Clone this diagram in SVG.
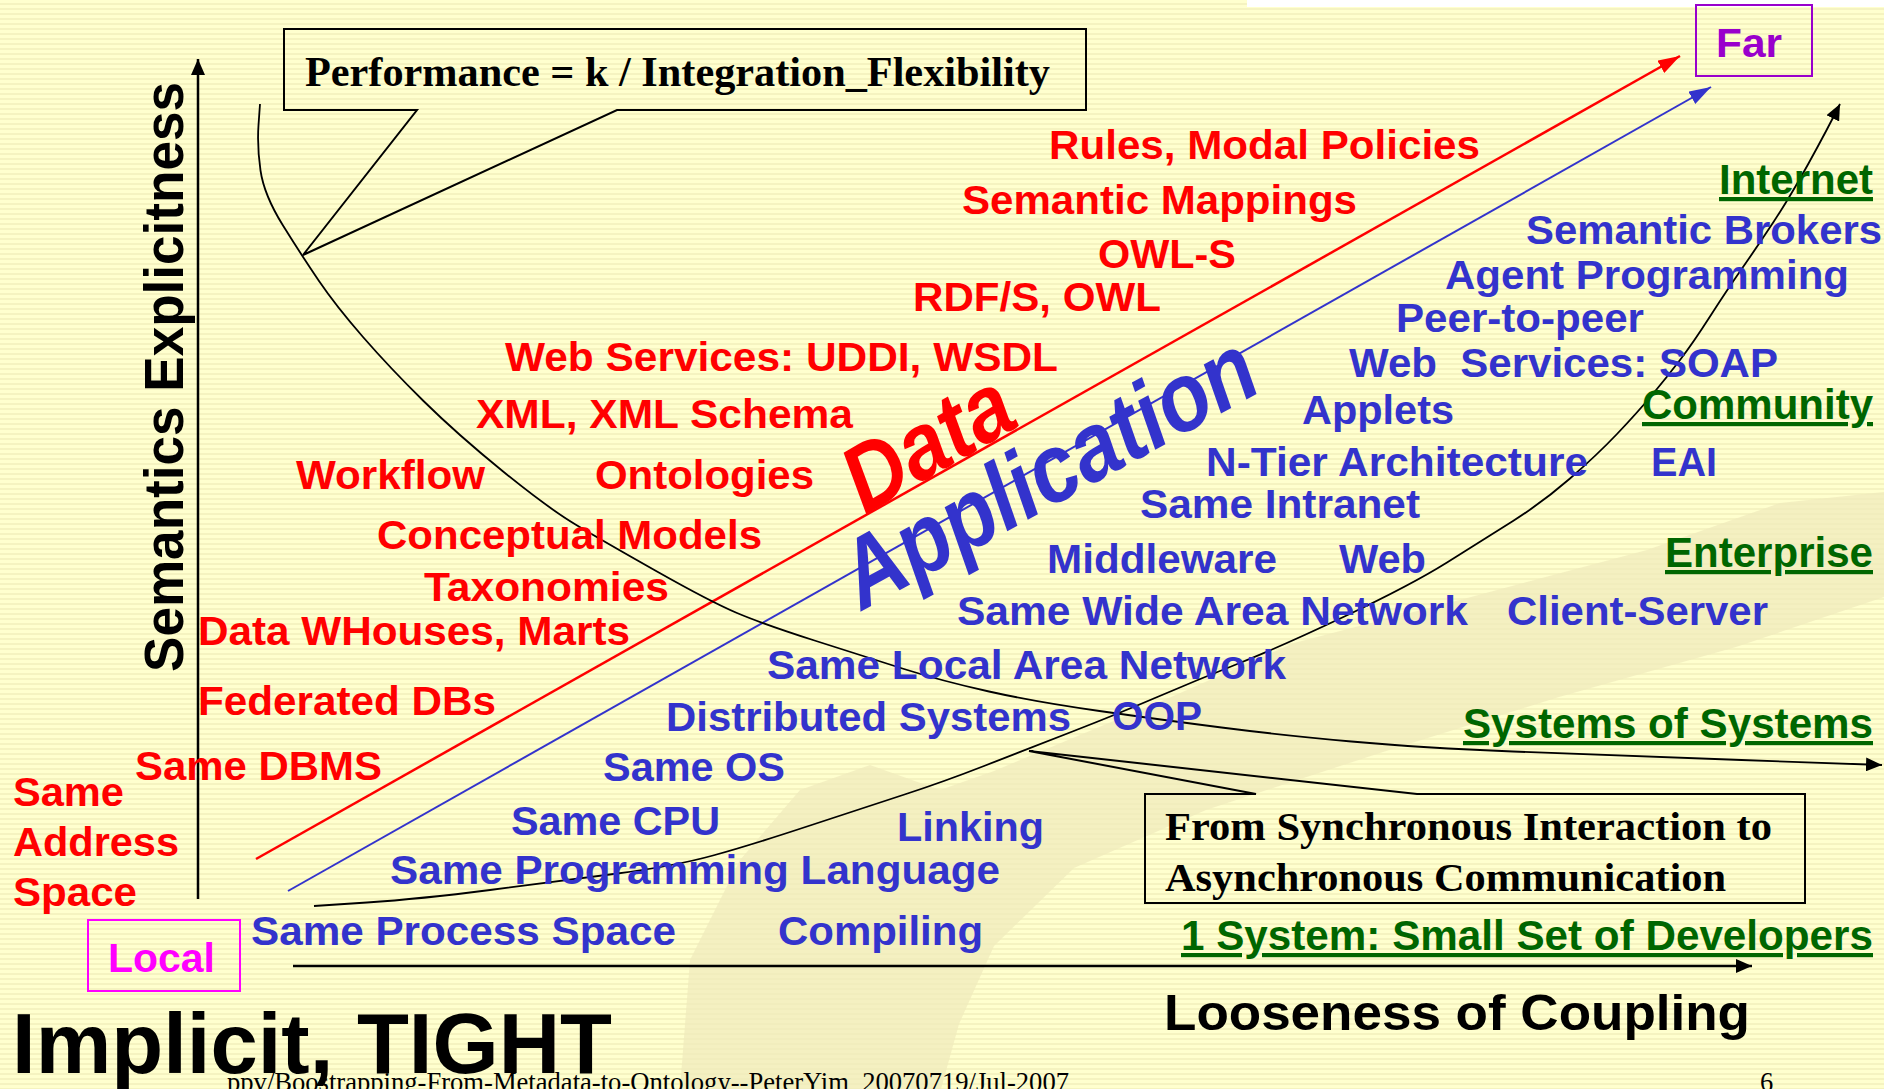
<svg xmlns="http://www.w3.org/2000/svg" width="1884" height="1089" viewBox="0 0 1884 1089">
<defs>
<pattern id="stripes" width="20" height="5" patternUnits="userSpaceOnUse">
<rect width="20" height="5" fill="#FFFFCE"/>
<rect y="3" width="20" height="2" fill="#F5F3C0"/>
</pattern>
<marker id="arrK" viewBox="0 0 16 14" refX="16" refY="7" markerWidth="16" markerHeight="14" markerUnits="userSpaceOnUse" orient="auto"><path d="M0,0 L16,7 L0,14 z" fill="#000"/></marker>
<marker id="arrR" viewBox="0 0 22 14" refX="22" refY="7" markerWidth="22" markerHeight="14" markerUnits="userSpaceOnUse" orient="auto"><path d="M0,0 L22,7 L0,14 z" fill="#FF0000"/></marker>
<marker id="arrB" viewBox="0 0 22 14" refX="22" refY="7" markerWidth="22" markerHeight="14" markerUnits="userSpaceOnUse" orient="auto"><path d="M0,0 L22,7 L0,14 z" fill="#3333CC"/></marker>
<style>
text{font-family:"Liberation Sans",Arial,sans-serif;font-weight:bold}
.r{fill:#FF0000;font-size:40px}
.b{fill:#3333CC;font-size:40px}
.g{fill:#006600;font-size:42px;text-decoration:underline;text-anchor:end}
.k{fill:#000}
.t{font-family:"Liberation Serif","Times New Roman",serif;fill:#000}
.box{fill:none;stroke:#000;stroke-width:2}
.ln{fill:none;stroke:#000;stroke-width:1.8}
</style>
</defs>
<rect width="1884" height="1089" fill="url(#stripes)"/>
<rect x="1247" y="0" width="637" height="7" fill="#FFFFFF"/>
<path d="M680,1089 L690,960 L740,860 L800,790 L870,765 L940,790 L994,771 L1171,697 L1294,643 L1471,597 L1647,550 L1780,503 L1884,492 L1884,597 L1736,647 L1559,697 L1383,752 L1206,810 L1074,868 L994,946 L959,1024 L941,1089 Z" fill="#EFEABC" opacity="0.7"/>

<g id="connectors">
<line x1="198" y1="899" x2="198" y2="59" stroke="#000" stroke-width="2.5" marker-end="url(#arrK)"/>
<line x1="293" y1="966" x2="1752" y2="966" stroke="#000" stroke-width="2.5" marker-end="url(#arrK)"/>
<line x1="256" y1="859" x2="1680" y2="56" stroke="#FF0000" stroke-width="2.5" marker-end="url(#arrR)"/>
<line x1="288" y1="891" x2="1711" y2="87" stroke="#3333CC" stroke-width="2" marker-end="url(#arrB)"/>
<path class="ln" d="M260,104 L258.5,125 Q257,146 260.5,170.5 Q264,195 283,225.5 Q302,256 319,281 Q336,306 363,337 Q390,368 423.5,401 Q457,434 502.5,471 Q548,508 575.5,524.5 Q603,541 657,571.5 Q711,602 737,613 Q763,624 814.5,640.5 Q866,657 904,669 Q942,681 989,691.5 Q1036,702 1099.5,711 Q1163,720 1221.5,727.5 Q1280,735 1351.5,741.5 Q1423,748 1513,751.5 Q1603,755 1741.5,760 L1882,765" marker-end="url(#arrK)"/>
<path class="ln" d="M314,906 L367,902.5 Q420,899 490,890 Q560,881 617.5,873.5 Q675,866 713,855.5 Q751,845 808.5,826 Q866,807 904.5,794.5 Q943,782 984,766 Q1025,750 1072.5,731.5 Q1120,713 1158.5,696.5 Q1197,680 1238.5,663.5 Q1280,647 1345.5,616 Q1411,585 1447,562.5 Q1483,540 1513,521 Q1543,502 1570,478.5 Q1597,455 1617,434 Q1637,413 1652,395 Q1667,377 1680,360 Q1693,343 1710,316.5 Q1727,290 1742,268.5 Q1757,247 1773.5,222 Q1790,197 1808.5,163.5 Q1827,130 1840,104" marker-end="url(#arrK)"/>
</g>

<g id="performance-callout">
<polygon class="box" points="284,29 1086,29 1086,110 617,110 303,255 417,110 284,110"/>
<text class="t" x="305" y="86" font-size="42" textLength="745" lengthAdjust="spacingAndGlyphs">Performance = k / Integration_Flexibility</text>
</g>

<g id="sync-callout">
<polygon class="box" points="1145,794 1256,794 1029,751 1417,794 1805,794 1805,903 1145,903"/>
<text class="t" x="1165" y="840" font-size="41" textLength="607" lengthAdjust="spacingAndGlyphs">From Synchronous Interaction to</text>
<text class="t" x="1165" y="891" font-size="41" textLength="561" lengthAdjust="spacingAndGlyphs">Asynchronous Communication</text>
</g>

<g id="far">
<rect x="1696" y="5" width="116" height="71" fill="none" stroke="#9900CC" stroke-width="2"/>
<text x="1716" y="57" font-size="40" fill="#9900CC" textLength="66" lengthAdjust="spacingAndGlyphs">Far</text>
</g>
<g id="local">
<rect x="88" y="920" width="152" height="71" fill="none" stroke="#FF00FF" stroke-width="2"/>
<text x="108" y="972" font-size="40" fill="#FF00FF" textLength="107" lengthAdjust="spacingAndGlyphs">Local</text>
</g>

<g id="axis-labels">
<text class="k" transform="translate(183,377) rotate(-90)" text-anchor="middle" font-size="55" textLength="590" lengthAdjust="spacingAndGlyphs">Semantics Explicitness</text>
<text class="k" x="12" y="1073" font-size="85" textLength="600" lengthAdjust="spacingAndGlyphs">Implicit, TIGHT</text>
<text class="k" x="1164" y="1030" font-size="50" textLength="586" lengthAdjust="spacingAndGlyphs">Looseness of Coupling</text>
</g>

<g id="footer">
<text class="t" x="227" y="1091" font-size="26.5" style="font-weight:normal" textLength="842" lengthAdjust="spacingAndGlyphs">ppv/Boostrapping-From-Metadata-to-Ontology--PeterYim_20070719/Jul-2007</text>
<text class="t" x="1760" y="1091" font-size="26.5" style="font-weight:normal">6</text>
</g>

<g id="data-label">
<text transform="translate(865,515) rotate(-30)" font-size="94" font-style="italic" fill="#FF0000" textLength="181" lengthAdjust="spacingAndGlyphs">Data</text>
</g>
<g id="application-label">
<text transform="translate(862,611) rotate(-28.8)" font-size="97" font-style="italic" fill="#3333CC" textLength="460" lengthAdjust="spacingAndGlyphs">Application</text>
</g>

<g id="data-items">
<g id="r1"><text class="r" x="1049" y="159" textLength="431" lengthAdjust="spacingAndGlyphs">Rules, Modal Policies</text></g>
<g id="r2"><text class="r" x="962" y="214" textLength="395" lengthAdjust="spacingAndGlyphs">Semantic Mappings</text></g>
<g id="r3"><text class="r" x="1098" y="268" textLength="138" lengthAdjust="spacingAndGlyphs">OWL-S</text></g>
<g id="r4"><text class="r" x="913" y="311" textLength="248" lengthAdjust="spacingAndGlyphs">RDF/S, OWL</text></g>
<g id="r5"><text class="r" x="505" y="371" textLength="553" lengthAdjust="spacingAndGlyphs">Web Services: UDDI, WSDL</text></g>
<g id="r6"><text class="r" x="476" y="428" textLength="377" lengthAdjust="spacingAndGlyphs">XML, XML Schema</text></g>
<g id="r7"><text class="r" x="296" y="489" textLength="189" lengthAdjust="spacingAndGlyphs">Workflow</text></g>
<g id="r8"><text class="r" x="595" y="489" textLength="219" lengthAdjust="spacingAndGlyphs">Ontologies</text></g>
<g id="r9"><text class="r" x="377" y="549" textLength="385" lengthAdjust="spacingAndGlyphs">Conceptual Models</text></g>
<g id="r10"><text class="r" x="424" y="601" textLength="245" lengthAdjust="spacingAndGlyphs">Taxonomies</text></g>
<g id="r11"><text class="r" x="198" y="645" textLength="432" lengthAdjust="spacingAndGlyphs">Data WHouses, Marts</text></g>
<g id="r12"><text class="r" x="198" y="715" textLength="298" lengthAdjust="spacingAndGlyphs">Federated DBs</text></g>
<g id="r13"><text class="r" x="135" y="780" textLength="247" lengthAdjust="spacingAndGlyphs">Same DBMS</text></g>
<g id="r14"><text class="r" x="13" y="806" textLength="111" lengthAdjust="spacingAndGlyphs">Same</text><text class="r" x="13" y="856" textLength="166" lengthAdjust="spacingAndGlyphs">Address</text><text class="r" x="13" y="906" textLength="124" lengthAdjust="spacingAndGlyphs">Space</text></g>
</g>

<g id="application-items">
<g id="b1"><text class="b" x="1526" y="244" textLength="356" lengthAdjust="spacingAndGlyphs">Semantic Brokers</text></g>
<g id="b2"><text class="b" x="1445" y="289" textLength="404" lengthAdjust="spacingAndGlyphs">Agent Programming</text></g>
<g id="b3"><text class="b" x="1396" y="332" textLength="248" lengthAdjust="spacingAndGlyphs">Peer-to-peer</text></g>
<g id="b4"><text class="b" x="1349" y="377" textLength="429" lengthAdjust="spacingAndGlyphs" style="white-space:pre" xml:space="preserve">Web  Services: SOAP</text></g>
<g id="b5"><text class="b" x="1302" y="424" textLength="152" lengthAdjust="spacingAndGlyphs">Applets</text></g>
<g id="b6"><text class="b" x="1206" y="476" textLength="382" lengthAdjust="spacingAndGlyphs">N-Tier Architecture</text></g>
<g id="b7"><text class="b" x="1651" y="476" textLength="66" lengthAdjust="spacingAndGlyphs">EAI</text></g>
<g id="b8"><text class="b" x="1140" y="518" textLength="280" lengthAdjust="spacingAndGlyphs">Same Intranet</text></g>
<g id="b9"><text class="b" x="1047" y="573" textLength="230" lengthAdjust="spacingAndGlyphs">Middleware</text></g>
<g id="b10"><text class="b" x="1339" y="573" textLength="87" lengthAdjust="spacingAndGlyphs">Web</text></g>
<g id="b11"><text class="b" x="957" y="625" textLength="511" lengthAdjust="spacingAndGlyphs">Same Wide Area Network</text></g>
<g id="b12"><text class="b" x="1507" y="625" textLength="261" lengthAdjust="spacingAndGlyphs">Client-Server</text></g>
<g id="b13"><text class="b" x="767" y="679" textLength="519" lengthAdjust="spacingAndGlyphs">Same Local Area Network</text></g>
<g id="b14"><text class="b" x="666" y="731" textLength="405" lengthAdjust="spacingAndGlyphs">Distributed Systems</text></g>
<g id="b15"><text class="b" x="1112" y="730" textLength="90" lengthAdjust="spacingAndGlyphs">OOP</text></g>
<g id="b16"><text class="b" x="603" y="781" textLength="182" lengthAdjust="spacingAndGlyphs">Same OS</text></g>
<g id="b17"><text class="b" x="511" y="835" textLength="209" lengthAdjust="spacingAndGlyphs">Same CPU</text></g>
<g id="b18"><text class="b" x="897" y="841" textLength="147" lengthAdjust="spacingAndGlyphs">Linking</text></g>
<g id="b19"><text class="b" x="390" y="884" textLength="610" lengthAdjust="spacingAndGlyphs">Same Programming Language</text></g>
<g id="b20"><text class="b" x="251" y="945" textLength="425" lengthAdjust="spacingAndGlyphs">Same Process Space</text></g>
<g id="b21"><text class="b" x="778" y="945" textLength="205" lengthAdjust="spacingAndGlyphs">Compiling</text></g>
</g>

<g id="scope-items">
<g id="g1"><text class="g" x="1873" y="194" textLength="154" lengthAdjust="spacingAndGlyphs">Internet</text></g>
<g id="g2"><text class="g" x="1873" y="419" textLength="231" lengthAdjust="spacingAndGlyphs">Community</text></g>
<g id="g3"><text class="g" x="1873" y="567" textLength="208" lengthAdjust="spacingAndGlyphs">Enterprise</text></g>
<g id="g4"><text class="g" x="1873" y="738" textLength="410" lengthAdjust="spacingAndGlyphs">Systems of Systems</text></g>
<g id="g5"><text class="g" x="1873" y="950" textLength="692" lengthAdjust="spacingAndGlyphs">1 System: Small Set of Developers</text></g>
</g>
</svg>
